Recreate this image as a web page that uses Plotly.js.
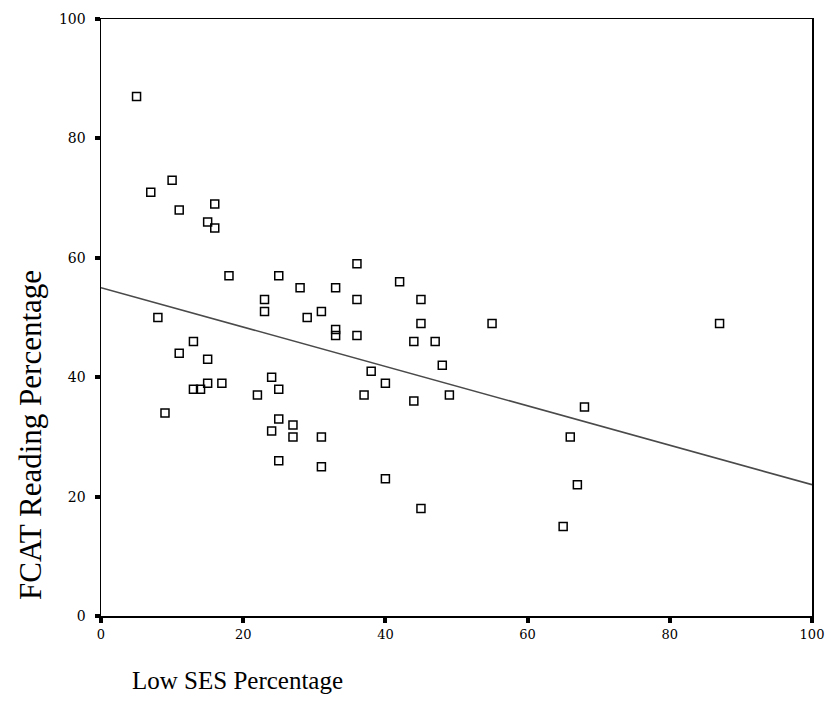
<!DOCTYPE html>
<html>
<head>
<meta charset="utf-8">
<script src="https://cdn.plot.ly/plotly-3.0.1.min.js"></script>
<style>html,body{margin:0;padding:0;background:#fff;}#chart{width:827px;height:724px;}</style>
</head>
<body>
<div id="chart"></div>
<script>
// Low SES percentage (x) and FCAT reading percentage (y)
const lowSES = [5,7,10,11,16,15,16,18,25,23,23,8,13,11,15,13,14,15,17,9,24,25,22,25,24,27,27,25,28,33,36,36,29,31,33,33,36,42,45,45,44,47,48,38,40,37,44,49,31,31,40,55,66,67,87,68,65,45];
const fcatReading = [87,71,73,68,69,66,65,57,57,53,51,50,46,44,43,38,38,39,39,34,40,38,37,33,31,32,30,26,55,55,59,53,50,51,48,47,47,56,53,49,46,46,42,41,39,37,36,37,30,25,23,49,30,22,49,35,15,18];
// fitted line endpoints
const fitX = [0, 100];
const fitY = [55, 22];
const tickVals = [0, 20, 40, 60, 80, 100];
const tickText = ['0', '20', '40', '60', '80', '100'];
const xTitle = 'Low SES Percentage';
const yTitle = 'FCAT Reading Percentage';

const traces = [
  {x: fitX, y: fitY, mode: 'lines', type: 'scatter', line: {color: '#4a4a4a', width: 1.6}, hoverinfo: 'skip', showlegend: false},
  {x: lowSES, y: fcatReading, mode: 'markers', type: 'scatter', showlegend: false,
   marker: {symbol: 'square-open', size: 8, color: '#000000', line: {width: 1.5, color: '#000000'}}}
];

const axisCommon = {
  range: [0, 100], tickvals: tickVals, ticktext: tickText,
  showgrid: false, zeroline: false, showline: true, linecolor: '#000', linewidth: 1.5,
  mirror: true, ticks: 'outside', ticklen: 5, tickwidth: 4, tickcolor: '#000',
  ticklabeloverflow: 'allow',
  tickfont: {family: 'DejaVu Serif, serif', size: 14, color: '#000'}
};

const plotW = 827 - 101 - 15;
const layout = {
  width: 827, height: 724,
  margin: {l: 101, r: 15, t: 19, b: 108},
  paper_bgcolor: '#fff', plot_bgcolor: '#fff',
  xaxis: Object.assign({}, axisCommon, {ticklabelstandoff: 1, tickfont: {family: 'DejaVu Serif, serif', size: 13, color: '#000'}}),
  yaxis: Object.assign({}, axisCommon, {ticklabelstandoff: 6}),
  annotations: [
    {text: xTitle, xref: 'paper', yref: 'paper', x: (130 - 101) / plotW, y: -(680 - 616) / 597,
     xanchor: 'left', yanchor: 'middle', showarrow: false,
     font: {family: 'Liberation Serif, serif', size: 25, color: '#000'}},
    {text: yTitle, xref: 'paper', yref: 'paper', x: (30 - 101) / plotW, y: (616 - 435) / 597,
     xanchor: 'center', yanchor: 'middle', textangle: -90, showarrow: false,
     font: {family: 'Liberation Serif, serif', size: 31, color: '#000'}}
  ]
};

Plotly.newPlot('chart', traces, layout, {displayModeBar: false, staticPlot: true});
</script>
</body>
</html>
